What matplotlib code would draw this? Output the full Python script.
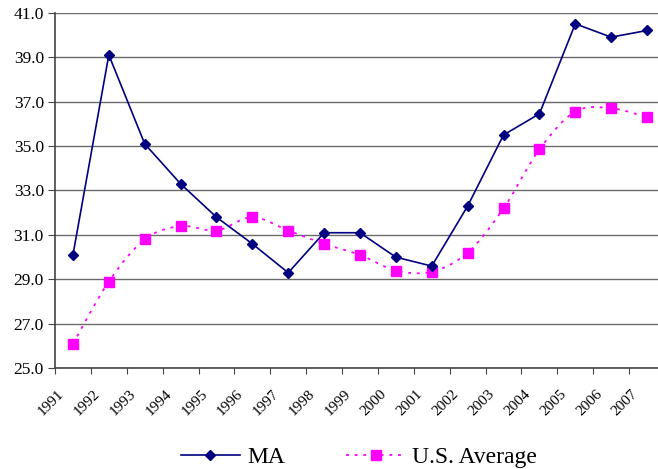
import numpy as np
import matplotlib
matplotlib.use('Agg')
import matplotlib.pyplot as plt
import matplotlib.transforms as mtransforms
from matplotlib.path import Path
from matplotlib.patches import PathPatch
from matplotlib.lines import Line2D

# data
years = [str(y) for y in range(1991, 2008)]
ma = [30.1, 39.1, 35.1, 33.3, 31.8, 30.6, 29.3, 31.1, 31.1, 30.0,
      29.6, 32.3, 35.5, 36.45, 40.5, 39.9, 40.2]
us_avg = [26.1, 28.9, 30.8, 31.4, 31.2, 31.8, 31.2, 30.6, 30.1, 29.4,
          29.35, 30.2, 32.2, 34.85, 36.55, 36.7, 36.3]
yticks = np.arange(25.0, 41.1, 2.0)

plt.rcParams['font.family'] = ['Liberation Serif', 'DejaVu Serif']

fig = plt.figure(figsize=(6.58, 4.69), dpi=100)
ax = fig.add_axes([55 / 658, 100.7 / 469, 610 / 658, 355.6 / 469])

x = np.arange(len(years)) + 0.5
grid_col = '#6b6b6b'

ax.set_xlim(0, len(years))
ax.set_ylim(25, 41)
ax.set_yticks(yticks)
ax.set_yticklabels(['%.1f' % v for v in yticks], fontsize=12.5)
ax.yaxis.grid(True, color=grid_col, lw=1.0)
ax.set_axisbelow(True)

# category boundaries get the tick marks, centres get the labels
ax.set_xticks(np.arange(len(years) + 1))
ax.set_xticklabels([])
ax.set_xticks(x, minor=True)
ax.set_xticklabels(years, minor=True, rotation=45, ha='right', va='center',
                   rotation_mode='anchor', fontsize=11)
ax.tick_params(axis='x', which='minor', length=0, pad=17)
ax.tick_params(axis='x', which='major', length=4, color='#444444', direction='out')
ax.tick_params(axis='y', length=5, color='#444444', direction='out', pad=3)
shift = mtransforms.ScaledTranslation(-8 / 72, 0, fig.dpi_scale_trans)
for lab in ax.get_xticklabels(minor=True):
    lab.set_transform(lab.get_transform() + shift)

for s in ['top', 'right']:
    ax.spines[s].set_visible(False)
for s in ['left', 'bottom']:
    ax.spines[s].set_color('#444444')
    ax.spines[s].set_linewidth(1.2)

# MA: straight navy line with diamonds
ax.plot(x, ma, color='#000080', lw=1.2, marker='D', ms=5.5, zorder=4)

# U.S. average: smoothed dotted magenta line (Catmull-Rom -> bezier)
pts = np.column_stack([x, us_avg])
verts = [pts[0]]
codes = [Path.MOVETO]
for i in range(len(pts) - 1):
    p0 = pts[i - 1] if i > 0 else pts[i]
    p1 = pts[i]
    p2 = pts[i + 1]
    p3 = pts[i + 2] if i + 2 < len(pts) else pts[i + 1]
    verts += [p1 + (p2 - p0) / 6, p2 - (p3 - p1) / 6, p2]
    codes += [Path.CURVE4] * 3
ax.add_patch(PathPatch(Path(verts, codes), fill=False, edgecolor='#FF00FF',
                       lw=1.3, linestyle=(0, (1.6, 3.2)), zorder=3))
ax.plot(x, us_avg, ls='none', marker='s', ms=6.5, color='#FF00FF', zorder=3)

handles = [
    Line2D([], [], color='#000080', lw=1.2, marker='D', ms=5.5),
    Line2D([], [], color='#FF00FF', lw=1.3, linestyle=(0, (1.6, 3.2)),
           marker='s', ms=6.5),
]
fig.legend(handles, ['MA', 'U.S. Average'], loc='center',
           bbox_to_anchor=(359 / 658, 1 - 457 / 469), ncol=2, frameon=False,
           fontsize=17, handlelength=2.5, columnspacing=2.6, handletextpad=0.3)

fig.savefig('out.png', dpi=100)
